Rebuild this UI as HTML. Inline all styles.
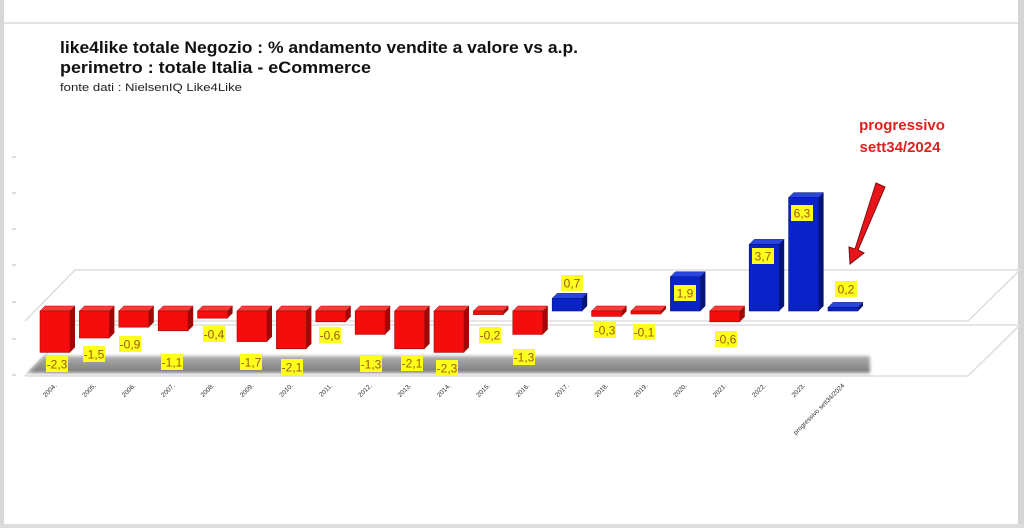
<!DOCTYPE html>
<html><head><meta charset="utf-8"><style>
html,body{margin:0;padding:0;background:#fff;}
svg{display:block;font-family:"Liberation Sans",sans-serif;}
</style></head><body>
<svg id="s" width="1024" height="528" viewBox="0 0 1024 528" xmlns="http://www.w3.org/2000/svg">
<defs>
<filter id="bl" x="-5%" y="-50%" width="110%" height="200%"><feGaussianBlur stdDeviation="1.5"/></filter>
<linearGradient id="sh" x1="0" y1="0" x2="0" y2="1"><stop offset="0" stop-color="#b0b0b0"/><stop offset="1" stop-color="#7a7a7a"/></linearGradient>
</defs>
<rect x="0" y="0" width="1024" height="528" fill="#fff"/>
<rect x="0" y="0" width="4" height="528" fill="#d8d8d8"/>
<rect x="4" y="22" width="1016" height="2" fill="#e2e2e2"/>
<rect x="1018" y="0" width="6" height="528" fill="#d5d5d5"/>
<rect x="0" y="524" width="1024" height="4" fill="#ddd"/>
<text x="60" y="53" font-size="17" font-weight="bold" fill="#111" textLength="518" lengthAdjust="spacingAndGlyphs">like4like totale Negozio : % andamento vendite a valore vs a.p.</text>
<text x="60" y="73" font-size="17" font-weight="bold" fill="#111" textLength="311" lengthAdjust="spacingAndGlyphs">perimetro : totale Italia  - eCommerce</text>
<text x="60" y="91" font-size="11" fill="#222" textLength="182" lengthAdjust="spacingAndGlyphs">fonte dati : NielsenIQ Like4Like</text>
<text x="902" y="130" font-size="15" font-weight="bold" fill="#e0201f" text-anchor="middle">progressivo</text>
<text x="900" y="152" font-size="15" font-weight="bold" fill="#e0201f" text-anchor="middle">sett34/2024</text>
<g stroke="#ddd" stroke-width="1.5" fill="none">
<polyline points="25,321 75,270 1020,270 968,321 70,321"/>
<polyline points="25,376 75,325 1020,325 968,376 25,376"/>
</g>
<g stroke="#bbb" stroke-width="1"><line x1="12" y1="157" x2="16" y2="157"/><line x1="12" y1="193" x2="16" y2="193"/><line x1="12" y1="229" x2="16" y2="229"/><line x1="12" y1="265" x2="16" y2="265"/><line x1="12" y1="302" x2="16" y2="302"/><line x1="12" y1="339" x2="16" y2="339"/><line x1="12" y1="375" x2="16" y2="375"/></g>
<polygon points="28,373 44,356 870,356 870,373" fill="url(#sh)" filter="url(#bl)"/>
<g id="bars"></g>
<polygon points="876,183 885,187 858,250 864,253 850,264 849,247 855,249 " fill="#e8141a" stroke="#7a1010" stroke-width="1"/>
</svg>
<script>
(function(){
var v=[-2.3,-1.5,-0.9,-1.1,-0.4,-1.7,-2.1,-0.6,-1.3,-2.1,-2.3,-0.2,-1.3,0.7,-0.3,-0.1,1.9,-0.6,3.7,6.3,0.2];
var lab=["2004","2005","2006","2007","2008","2009","2010","2011","2012","2013","2014","2015","2016","2017","2018","2019","2020","2021","2022","2023","progressivo sett34/2024"];
var lp=[[57,364],[94,354],[130,344],[172,362],[214,334],[251,362],[292,367],[330,335],[371,364],[412,363],[447,368],[490,335],[524,357],[572,283],[605,330],[644,332],[685,293],[726,339],[763,256],[802,213],[846,289]];
var g=document.getElementById('bars'),h='';
var Z=311,K=18,W=30,D=5;
for(var i=0;i<v.length;i++){
 var x=40+i*39.4, blue=v[i]>0;
 var yt=blue?Z-v[i]*K:Z, yb=blue?Z:Z-v[i]*K;
 if(yb-yt<3)yb=yt+3;
 var f=blue?'#0a23c8':'#f50c0c', s=blue?'#061478':'#a00808', t=blue?'#2a44e0':'#ff3a3a';
 h+='<polygon points="'+(x+W)+','+yt+' '+(x+W+D)+','+(yt-D)+' '+(x+W+D)+','+(yb-D)+' '+(x+W)+','+yb+'" fill="'+s+'"/>';
 h+='<polygon points="'+x+','+yt+' '+(x+D)+','+(yt-D)+' '+(x+W+D)+','+(yt-D)+' '+(x+W)+','+yt+'" fill="'+t+'" stroke="'+s+'" stroke-width="0.5"/>';
 h+='<rect x="'+x+'" y="'+yt+'" width="'+W+'" height="'+(yb-yt)+'" fill="'+f+'" stroke="'+s+'" stroke-width="0.6"/>';
 var cx=x+W/2;
 h+='<text transform="translate('+(cx+2)+',386) rotate(-45)" font-size="6.5" fill="#333" text-anchor="end">'+lab[i]+(i<20?'.':'')+'</text>';
 var L=lp[i], txt=String(v[i]).replace('.',',');
 h+='<rect x="'+(L[0]-11)+'" y="'+(L[1]-8)+'" width="22" height="16" fill="#ffff1e"/>';
 h+='<text x="'+L[0]+'" y="'+(L[1]+4.5)+'" font-size="12" fill="#9a5a00" text-anchor="middle">'+txt+'</text>';
}
g.innerHTML=h;
})();
</script>
</body></html>
